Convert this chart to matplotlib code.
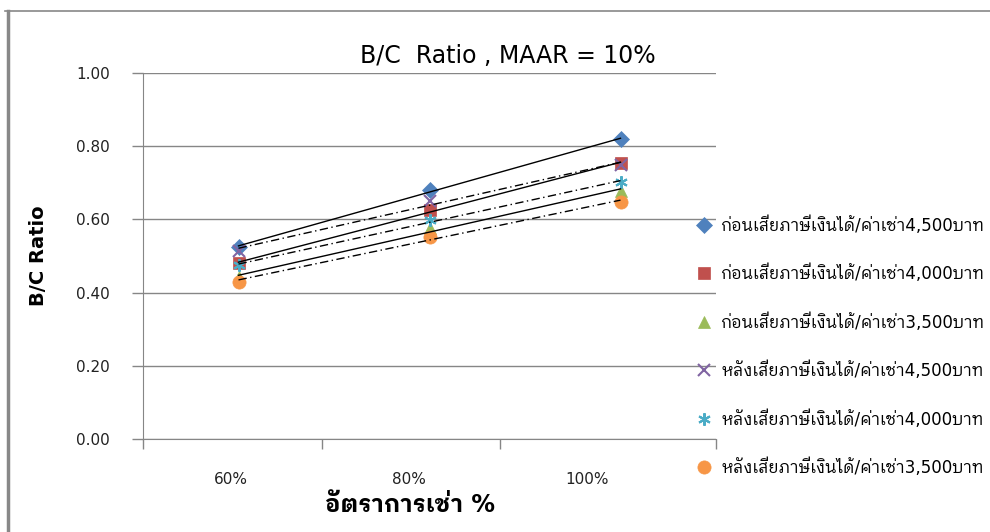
import numpy as np
import matplotlib
matplotlib.use('Agg')
import matplotlib.pyplot as plt
from matplotlib.lines import Line2D

categories = ['60%', '80%', '100%']
series_names = [
    'ก่อนเสียภาษีเงินได้/ค่าเช่า4,500บาท',
    'ก่อนเสียภาษีเงินได้/ค่าเช่า4,000บาท',
    'ก่อนเสียภาษีเงินได้/ค่าเช่า3,500บาท',
    'หลังเสียภาษีเงินได้/ค่าเช่า4,500บาท',
    'หลังเสียภาษีเงินได้/ค่าเช่า4,000บาท',
    'หลังเสียภาษีเงินได้/ค่าเช่า3,500บาท',
]
before_4500 = [0.525, 0.680, 0.819]
before_4000 = [0.480, 0.626, 0.753]
before_3500 = [0.442, 0.576, 0.678]
after_4500 = [0.515, 0.651, 0.750]
after_4000 = [0.475, 0.598, 0.703]
after_3500 = [0.430, 0.553, 0.648]

all_series = [before_4500, before_4000, before_3500, after_4500, after_4000, after_3500]
colors = ['#4F81BD', '#C0504D', '#9BBB59', '#8064A2', '#4BACC6', '#F79646']
markers = ['D', 's', '^', 'x', (6, 2, 0), 'o']
msizes = [8, 9, 9, 9, 9, 9.5]
dashdot = (0, (6, 2.5, 1, 2.5))
trend_styles = ['-', '-', '-', dashdot, dashdot, dashdot]

# Thai glyphs fall back to a looped Thai face
plt.rcParams['font.family'] = ['DejaVu Sans', 'IBM Plex Sans Thai Looped', 'Anuphan']

fig = plt.figure(figsize=(9.9, 5.32), dpi=100)
ax = fig.add_axes([143 / 990, 1 - 439 / 532, 573 / 990, 366 / 532])

xs = np.arange(len(categories))
handles = []
for i, vals in enumerate(all_series):
    h, = ax.plot(xs, vals, linestyle='none', marker=markers[i], color=colors[i],
                 markersize=msizes[i], markeredgewidth=1.5 if markers[i] in ('x', (6, 2, 0)) else 0.5,
                 zorder=3 + i, label=series_names[i])
    handles.append(h)
    # linear trendline per series
    k, b = np.polyfit(xs, vals, 1)
    ax.plot(xs, k * xs + b, color='black', linewidth=1, linestyle=trend_styles[i], zorder=10)

ax.set_xlim(-0.5, 2.5)
ax.set_ylim(0, 1.0)
yt = np.arange(0, 1.01, 0.2)
ax.set_yticks(yt)
ax.set_yticklabels(['%.2f' % v for v in yt])
ax.yaxis.grid(True, color='#868686', linewidth=1)
ax.set_axisbelow(True)

# tick marks at category boundaries, labels in between
ax.set_xticks([-0.5, 0.437, 1.369, 2.5])
ax.set_xticklabels([])
ax.set_xticks([-0.039, 0.893, 1.827], minor=True)
ax.set_xticklabels(categories, minor=True)
ax.tick_params(axis='x', which='minor', length=0, pad=24, labelsize=11, labelcolor='#222222')
ax.tick_params(axis='x', which='major', length=7, color='#868686', width=1)
ax.tick_params(axis='y', length=8, color='#868686', width=1, pad=16, labelsize=11, labelcolor='#222222')

for s in ['top', 'right']:
    ax.spines[s].set_visible(False)
for s in ['left', 'bottom']:
    ax.spines[s].set_color('#868686')

ax.set_ylabel('B/C Ratio', fontsize=14, fontweight='bold', labelpad=20)
ax.set_xlabel('อัตราการเช่า %', fontsize=17, fontweight='bold')
ax.xaxis.set_label_coords((410 - 143) / 573, -0.148)

fig.text(508 / 990, 1 - 56 / 532, 'B/C  Ratio , MAAR = 10%', fontsize=17, ha='center', va='center')

fig.legend(handles=handles, loc='upper left', bbox_to_anchor=(696 / 990, 1 - 216 / 532),
           frameon=False, fontsize=12, labelspacing=1.8, handlelength=1, handletextpad=0.5,
           borderaxespad=0, borderpad=0)

# chart frame
fig.add_artist(Line2D([5 / 990, 1], [1 - 11 / 532] * 2, color='#888888', linewidth=1.2))
fig.add_artist(Line2D([8 / 990] * 2, [0, 1 - 11 / 532], color='#888888', linewidth=2.5))

fig.savefig('out.png', dpi=100)
